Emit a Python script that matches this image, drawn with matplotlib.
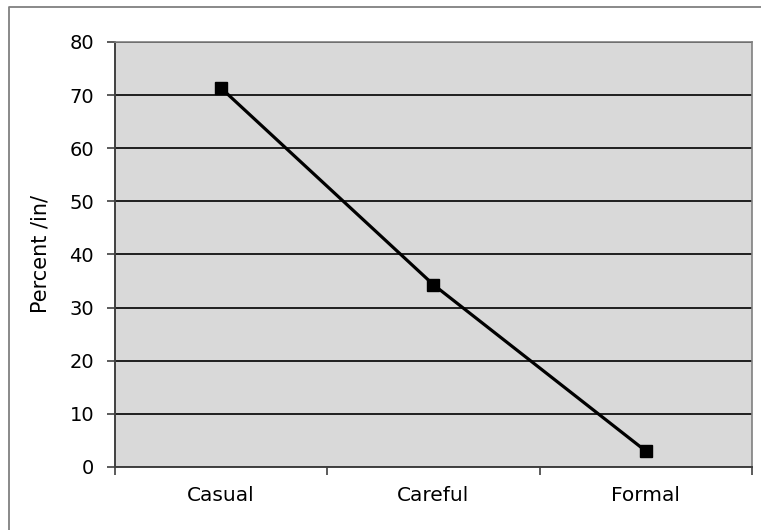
import matplotlib.pyplot as plt
from matplotlib.lines import Line2D

categories = ['Casual', 'Careful', 'Formal']
percent_in = [71.3, 34.3, 3.0]
y_ticks = [0, 10, 20, 30, 40, 50, 60, 70, 80]

fig = plt.figure(figsize=(7.61, 5.30), dpi=100)
ax = fig.add_axes([0.1511, 0.1189, 0.837, 0.802])

# outer frame of the chart (only top and left edges visible)
fig.lines.append(Line2D([8.5 / 761, 8.5 / 761, 1.0], [0.0, 1 - 6.5 / 530, 1 - 6.5 / 530],
                        transform=fig.transFigure, color='#808080', linewidth=1.3))

ax.set_facecolor('#d9d9d9')
x = list(range(len(categories)))
ax.plot(x, percent_in, '-s', color='black', linewidth=2.3, markersize=9, zorder=3)

ax.set_xlim(-0.5, len(categories) - 0.5)
ax.set_ylim(0, 80)
ax.set_yticks(y_ticks)
ax.yaxis.grid(True, color='black', linewidth=1.2)
ax.set_axisbelow(True)

ax.set_xticks([i - 0.5 for i in range(len(categories) + 1)])
ax.set_xticklabels([])
ax.set_xticks(x, minor=True)
ax.set_xticklabels(categories, minor=True, fontsize=14.5)
ax.tick_params(axis='x', which='minor', length=0, pad=14)
ax.tick_params(axis='x', which='major', length=6, width=1.2, color='#404040')
ax.tick_params(axis='y', length=6, width=1.2, color='#404040', labelsize=14, pad=9)

ax.set_ylabel('Percent /in/', fontsize=15, va='center')
ax.yaxis.set_label_coords(-74 / 637, 0.5)

for s in ['left', 'bottom']:
    ax.spines[s].set_color('#404040')
    ax.spines[s].set_linewidth(1.4)
for s in ['top', 'right']:
    ax.spines[s].set_color('#808080')
    ax.spines[s].set_linewidth(1.2)

fig.savefig('out.png', dpi=100)
